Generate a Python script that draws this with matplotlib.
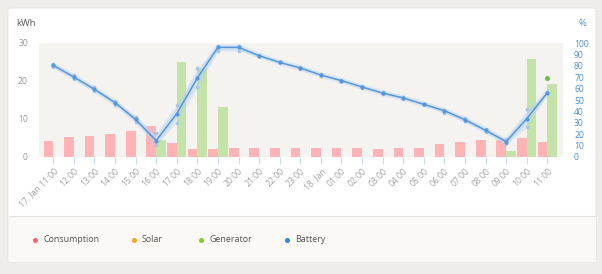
import matplotlib
matplotlib.use("Agg")
import matplotlib.pyplot as plt
from matplotlib.patches import FancyBboxPatch, Rectangle
import numpy as np

plt.rcParams['font.family'] = ['Open Sans', 'DejaVu Sans']

categories = ["17. Jan 11:00", "12:00", "13:00", "14:00", "15:00", "16:00", "17:00",
              "18:00", "19:00", "20:00", "21:00", "22:00", "23:00", "18. Jan",
              "01:00", "02:00", "03:00", "04:00", "05:00", "06:00", "07:00",
              "08:00", "09:00", "10:00", "11:00"]
consumption = [4.1, 5.2, 5.5, 6.1, 6.9, 8.2, 3.7, 2.2, 2.2, 2.5, 2.5, 2.5, 2.5, 2.5,
               2.5, 2.5, 2.0, 2.3, 2.5, 3.3, 3.9, 4.5, 4.6, 5.0, 3.9]
generator = [0, 0, 0, 0, 0, 4.6, 25.0, 23.5, 13.1, 0, 0, 0, 0, 0,
             0, 0, 0, 0, 0, 0, 0, 0, 1.7, 25.8, 19.1]
generator_point = 20.8  # lone generator marker at last hour (kWh)
battery = [80.4, 70.2, 59.4, 47.7, 33.0, 14.3, 38.0, 69.3, 96.2, 96.2, 88.9, 83.0,
           78.1, 71.9, 67.0, 61.4, 56.1, 51.8, 46.2, 40.6, 32.7, 23.4, 13.5, 33.6, 56.4]
battery_max = [81.5, 72.0, 61.0, 49.5, 35.0, 21.0, 46.0, 78.0, 97.2, 97.0, 89.6, 83.6,
               78.7, 72.5, 67.6, 61.9, 56.6, 52.5, 46.8, 41.6, 33.8, 25.0, 16.0, 42.0, 57.0]
battery_min = [79.0, 68.5, 57.8, 46.0, 31.0, 10.5, 30.0, 61.0, 93.0, 93.0, 88.2, 82.4,
               77.5, 71.3, 66.4, 60.9, 55.6, 51.0, 45.6, 39.0, 31.2, 22.0, 11.0, 26.0, 55.8]
left_ticks = [0, 10, 20, 30]
right_ticks = list(range(0, 101, 10))
legend_labels = ["Consumption", "Solar", "Generator", "Battery"]
legend_colors = ["#f46b6b", "#f5a623", "#7ed321", "#3a85d6"]

W, H = 602, 274
fig = plt.figure(figsize=(W / 100, H / 100), dpi=100)
fig.patch.set_facecolor("#eeede9")

def fx(px): return px / W
def fy(py): return 1 - py / H

# card
fig.patches.append(FancyBboxPatch((fx(8), fy(262)), fx(596) - fx(8), fy(8) - fy(262),
                                  boxstyle="round,pad=0,rounding_size=0.006",
                                  transform=fig.transFigure, facecolor="white",
                                  edgecolor="#e4e3df", linewidth=0.6, zorder=-3))
fig.patches.append(Rectangle((fx(8.5), fy(261.5)), fx(595.5) - fx(8.5), fy(216) - fy(261.5),
                             transform=fig.transFigure, facecolor="#faf9f6",
                             edgecolor="none", zorder=-2))
fig.lines.append(plt.Line2D([fx(8.5), fx(595.5)], [fy(216), fy(216)], transform=fig.transFigure,
                            color="#e2e1dd", linewidth=0.8, zorder=-1))

ax = fig.add_axes([fx(39), fy(157), fx(563) - fx(39), fy(43) - fy(157)])
ax.set_facecolor("#f4f3f0")
x = np.arange(len(categories))
bw = 0.47
ax.bar(x, consumption, width=-bw, align="edge", color="#ffb3b5", zorder=2)
ax.bar(x, generator, width=bw, align="edge", color="#c4e3a8", zorder=2)
ax.set_xlim(-0.69, 24.76)
ax.set_ylim(0, 30)
ax.set_yticks(left_ticks)
ax.tick_params(axis="y", length=0, pad=8, labelsize=6.2, labelcolor="#999999")
ax.set_xticks(x)
ax.set_xticklabels(categories, rotation=45, ha="right", rotation_mode="anchor",
                   fontsize=6.2, color="#a3a3a3")
ax.tick_params(axis="x", length=5, width=0.8, color="#c9dbf2", pad=2)
for s in ax.spines.values():
    s.set_visible(False)

ax2 = ax.twinx()
ax2.set_ylim(0, 100)
ax2.set_yticks(right_ticks)
ax2.tick_params(axis="y", length=0, pad=8, labelsize=6.2, labelcolor="#4a90e2")
for lbl in ax2.get_yticklabels():
    lbl.set_horizontalalignment("left")
for s in ax2.spines.values():
    s.set_visible(False)
ax2.fill_between(x, battery_min, battery_max, color="#b3cfee", alpha=0.35, linewidth=0, zorder=2)
ax2.plot(x, battery, "-", color="#b9d3f0", linewidth=4, alpha=0.45, zorder=2.5,
         solid_capstyle="round")
ax2.plot(x, battery_max, "o", color="#a3c4eb", markersize=1.6, linestyle="none", zorder=3)
ax2.plot(x, battery_min, "o", color="#a3c4eb", markersize=1.6, linestyle="none", zorder=3)
ax2.plot(x, battery, "-o", color="#5597dc", linewidth=1.1, markersize=2.0, zorder=4)
ax2.plot([x[-1]], [generator_point], "o", color="#6cc24a", markersize=2.6, zorder=5,
         transform=ax.transData)

fig.text(fx(16), fy(24), "kWh", fontsize=6.8, color="#555555", va="center", ha="left")
fig.text(fx(582), fy(24), "%", fontsize=6.8, color="#4a90e2", va="center", ha="center")

# legend
dot_x = [35, 134, 201, 287]
for dxp, lab, col in zip(dot_x, legend_labels, legend_colors):
    fig.lines.append(plt.Line2D([fx(dxp)], [fy(240)], marker="o", markersize=2.6,
                                color=col, transform=fig.transFigure, linestyle="none"))
    fig.text(fx(dxp + 8), fy(240), lab, fontsize=6.4, color="#555555", va="center", ha="left")

fig.savefig("out.png", dpi=100, facecolor=fig.get_facecolor())
